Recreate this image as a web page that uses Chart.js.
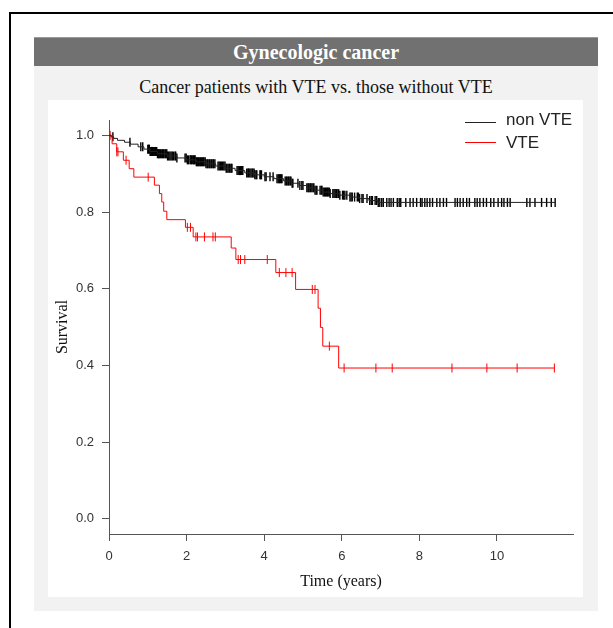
<!DOCTYPE html>
<html>
<head>
<meta charset="utf-8">
<script src="https://cdn.jsdelivr.net/npm/chart.js@4/dist/chart.umd.min.js"></script>
<style>
  body { margin: 0; width: 613px; height: 628px; overflow: hidden; background: #fff; position: relative; }
  .abs { position: absolute; }
  #frame { left: 9px; top: 12px; width: 700px; height: 700px; border-left: 2px solid #000; border-top: 2px solid #000; }
  #panel { left: 34px; top: 66px; width: 564px; height: 545px; background: #f2f2f2; }
  #header { left: 34px; top: 37px; width: 564px; height: 29px; background: #717171; border-top: 1px solid #9a9a9a; box-sizing: border-box;
            color: #fff; font: bold 20px "Liberation Serif", serif; text-align: center; line-height: 28px; }
  #subtitle { left: 34px; top: 76px; width: 564px; text-align: center; font: 18px "Liberation Serif", serif; color: #111; line-height: 22px; }
  #white { left: 48px; top: 100px; width: 535px; height: 497px; background: #fff; }
  #km { left: 0; top: 0; }
  .leg { position: absolute; font: 17px "Liberation Sans", Arial, sans-serif; color: #222; line-height: 20px; }
  .legline { position: absolute; width: 31px; height: 0; }
</style>
</head>
<body>
<div id="frame" class="abs"></div>
<div id="panel" class="abs"></div>
<div id="header" class="abs">Gynecologic cancer</div>
<div id="subtitle" class="abs">Cancer patients with VTE vs. those without VTE</div>
<div id="white" class="abs"></div>
<canvas id="km" class="abs" width="613" height="628"></canvas>
<div class="legline" style="left:465px;top:122px;border-top:1px solid #222"></div>
<div class="leg" style="left:506px;top:110px">non VTE</div>
<div class="legline" style="left:465px;top:142px;border-top:1px solid red"></div>
<div class="leg" style="left:506px;top:133px">VTE</div>
<script>
// Kaplan-Meier steps (time in years, survival after the drop)
var nonVteTimes = [0.05, 0.12, 0.22, 0.40, 0.55, 0.75, 0.90, 1.05, 1.25, 1.50, 1.75, 2.00, 2.25, 2.50, 2.75, 3.00,
  3.25, 3.50, 3.75, 4.00, 4.25, 4.50, 4.70, 4.90, 5.10, 5.30, 5.50, 5.70, 5.95, 6.20, 6.45, 6.70, 6.93];
var nonVteSurv = [0.996, 0.992, 0.987, 0.982, 0.977, 0.970, 0.964, 0.958, 0.952, 0.946, 0.941, 0.936, 0.931, 0.926, 0.920, 0.914,
  0.908, 0.902, 0.897, 0.892, 0.887, 0.881, 0.875, 0.869, 0.863, 0.857, 0.852, 0.848, 0.844, 0.839, 0.835, 0.830, 0.825];
var nonVteCensor = [0.10, 0.54, 0.82, 0.87,
  1.00, 1.02, 1.04, 1.06, 1.08, 1.10, 1.12, 1.14, 1.16, 1.18, 1.20, 1.23, 1.25, 1.27, 1.29, 1.31, 1.33, 1.36, 1.38,
  1.40, 1.42, 1.45, 1.47, 1.49, 1.51, 1.54, 1.57, 1.60, 1.63, 1.66, 1.70, 1.72, 1.75,
  1.96, 1.99, 2.02, 2.05, 2.09, 2.11, 2.13, 2.16, 2.18, 2.20, 2.22, 2.25, 2.27, 2.29, 2.31, 2.34, 2.36, 2.38, 2.41,
  2.43, 2.45, 2.48, 2.50, 2.53, 2.55, 2.58, 2.60, 2.63, 2.65, 2.68, 2.70, 2.73,
  2.81, 2.84, 2.87, 2.90, 2.93, 2.96, 2.99, 3.02, 3.04, 3.07, 3.10, 3.12, 3.15, 3.17,
  3.30, 3.33, 3.36, 3.39, 3.41, 3.43, 3.45, 3.55, 3.58, 3.60, 3.63, 3.66, 3.69, 3.71, 3.74, 3.76, 3.79, 3.81,
  3.89, 3.91, 3.93, 4.02, 4.05, 4.15, 4.23, 4.33, 4.36, 4.38, 4.40, 4.42, 4.44, 4.46,
  4.54, 4.57, 4.59, 4.62, 4.64, 4.67, 4.69, 4.72, 4.74, 4.87, 4.92, 4.97, 5.00,
  5.10, 5.13, 5.15, 5.18, 5.20, 5.23, 5.26, 5.28, 5.31, 5.34, 5.36, 5.44, 5.47, 5.49, 5.52, 5.55, 5.58, 5.60,
  5.63, 5.65, 5.68, 5.70, 5.77, 5.80, 5.83, 5.86, 5.88, 5.92, 5.95,
  6.02, 6.05, 6.08, 6.13, 6.21, 6.24, 6.27, 6.33, 6.40, 6.43, 6.46, 6.52, 6.55, 6.65, 6.72, 6.76, 6.79, 6.86,
  6.90, 6.94, 6.98, 7.03, 7.07, 7.16, 7.22, 7.27, 7.33, 7.43, 7.48, 7.52, 7.65, 7.76, 7.84, 7.93, 8.03, 8.07,
  8.14, 8.20, 8.27, 8.34, 8.45, 8.53, 8.62, 8.70, 8.92, 8.98, 9.05, 9.13, 9.22, 9.29, 9.43, 9.49, 9.56, 9.65,
  9.73, 9.84, 9.92, 10.03, 10.12, 10.18, 10.27, 10.34, 10.77, 10.85, 10.98, 11.15, 11.28, 11.40, 11.50];

var vteTimes = [0.08, 0.20, 0.37, 0.52, 0.64, 1.17, 1.30, 1.36, 1.41, 1.49, 1.97, 2.17, 3.15, 3.27, 4.30, 4.81, 5.39, 5.45, 5.51, 5.92];
var vteSurv = [0.978, 0.957, 0.935, 0.913, 0.891, 0.870, 0.848, 0.826, 0.802, 0.780, 0.760, 0.735, 0.706, 0.676, 0.642, 0.598, 0.549, 0.499, 0.450, 0.393];
var vteCensor = [0.03, 0.20, 0.23, 0.44, 1.01, 2.02, 2.10, 2.24, 2.28, 2.46, 2.68, 2.74, 3.33, 3.39, 3.50, 4.08,
  4.39, 4.56, 4.72, 5.24, 5.31, 5.68, 6.06, 6.88, 7.30, 8.84, 9.74, 10.52, 11.48];

var xTicks = [0, 2, 4, 6, 8, 10];
var yTicks = [0, 0.2, 0.4, 0.6, 0.8, 1.0];

function survAt(times, surv, t) {
  var s = 1;
  for (var i = 0; i < times.length; i++) if (times[i] <= t) s = surv[i];
  return s;
}
function stepLine(times, surv, censor) {
  var pts = [{x: 0, y: 1}];
  for (var i = 0; i < times.length; i++) pts.push({x: times[i], y: surv[i]});
  var end = censor[censor.length - 1];
  pts.push({x: end, y: survAt(times, surv, end)});
  return pts;
}
function marks(times, surv, censor) {
  return censor.map(function (t) { return {x: t, y: survAt(times, surv, t)}; });
}

var tickFont = {family: '"Liberation Sans", Arial, sans-serif', size: 13};
var titleFont = {family: '"Liberation Serif", serif', size: 16};

new Chart(document.getElementById('km'), {
  type: 'scatter',
  data: {
    datasets: [
      {label: 'non VTE', data: stepLine(nonVteTimes, nonVteSurv, nonVteCensor), showLine: true, stepped: 'before',
       borderColor: '#222', borderWidth: 1, pointRadius: 0},
      {label: 'VTE', data: stepLine(vteTimes, vteSurv, vteCensor), showLine: true, stepped: 'before',
       borderColor: 'red', borderWidth: 1, pointRadius: 0},
      {label: 'non VTE censored', data: marks(nonVteTimes, nonVteSurv, nonVteCensor), pointStyle: 'line', pointRotation: 90,
       pointRadius: 4.5, pointBorderColor: '#000', pointBorderWidth: 1.4},
      {label: 'VTE censored', data: marks(vteTimes, vteSurv, vteCensor), pointStyle: 'line', pointRotation: 90,
       pointRadius: 4.5, pointBorderColor: 'red', pointBorderWidth: 1}
    ]
  },
  options: {
    responsive: false,
    animation: false,
    devicePixelRatio: 1,
    layout: {padding: {left: 40, top: 120, right: 40, bottom: 34}},
    plugins: {legend: {display: false}, tooltip: {enabled: false}},
    scales: {
      x: {
        type: 'linear', min: 0, max: 11.96,
        afterBuildTicks: function (s) { s.ticks = xTicks.map(function (v) { return {value: v}; }); },
        afterFit: function (s) { s.height = 60; },
        grid: {drawOnChartArea: false, tickLength: 7, color: '#555'},
        border: {color: '#555'},
        ticks: {font: tickFont, color: '#333', padding: 8, maxRotation: 0},
        title: {display: true, text: 'Time (years)', font: titleFont, color: '#111', padding: {top: 0, bottom: 3}}
      },
      y: {
        type: 'linear', min: -0.04, max: 1.04,
        afterBuildTicks: function (s) { s.ticks = yTicks.map(function (v) { return {value: v}; }); },
        afterFit: function (s) { s.width = 69; },
        grid: {drawOnChartArea: false, tickLength: 7, color: '#555'},
        border: {color: '#555'},
        ticks: {font: tickFont, color: '#333', padding: 8, callback: function (v) { return v.toFixed(1); }},
        title: {display: true, text: 'Survival', font: titleFont, color: '#111', padding: {top: 13, bottom: 0}}
      }
    }
  }
});
</script>
</body>
</html>
